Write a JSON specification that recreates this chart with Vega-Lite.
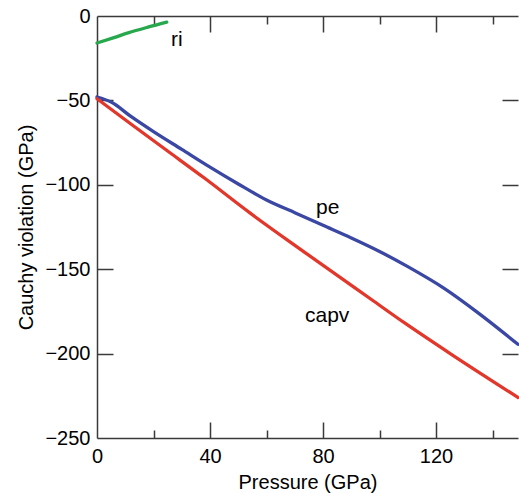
{
  "$schema": "https://vega.github.io/schema/vega-lite/v6.json",
  "width": 421,
  "height": 422,
  "autosize": {"type": "none"},
  "padding": {"left": 97, "top": 16, "right": 1, "bottom": 55},
  "background": "white",
  "config": {
    "view": {"stroke": null},
    "font": "Liberation Sans",
    "axis": {
      "grid": false,
      "labelFlush": false,
      "labelOverlap": false,
      "labelFont": "Liberation Sans",
      "labelFontSize": 20,
      "labelColor": "black",
      "titleFont": "Liberation Sans",
      "titleFontSize": 20,
      "titleFontWeight": "normal",
      "titleColor": "black",
      "domainColor": "#3a3a3a",
      "domainWidth": 1.5,
      "tickColor": "#3a3a3a",
      "tickWidth": 1.5
    }
  },
  "datasets": {
    "lines": [
      {"series": "ri", "p": 0, "v": -16},
      {"series": "ri", "p": 6, "v": -12.8},
      {"series": "ri", "p": 11, "v": -10},
      {"series": "ri", "p": 18, "v": -6.6},
      {"series": "ri", "p": 24.7, "v": -3.6},
      {"series": "pe", "p": 0, "v": -48},
      {"series": "pe", "p": 5, "v": -51},
      {"series": "pe", "p": 12, "v": -59.5},
      {"series": "pe", "p": 20, "v": -68.5},
      {"series": "pe", "p": 30, "v": -79},
      {"series": "pe", "p": 40, "v": -89.5},
      {"series": "pe", "p": 50, "v": -99.5},
      {"series": "pe", "p": 60, "v": -109},
      {"series": "pe", "p": 70, "v": -116.5},
      {"series": "pe", "p": 80, "v": -124},
      {"series": "pe", "p": 90, "v": -131.5},
      {"series": "pe", "p": 100, "v": -139.5},
      {"series": "pe", "p": 110, "v": -148.5},
      {"series": "pe", "p": 123, "v": -161.5},
      {"series": "pe", "p": 135, "v": -176},
      {"series": "pe", "p": 149, "v": -194.5},
      {"series": "capv", "p": 0, "v": -49},
      {"series": "capv", "p": 12, "v": -64},
      {"series": "capv", "p": 25, "v": -80},
      {"series": "capv", "p": 38, "v": -96},
      {"series": "capv", "p": 54, "v": -116.5},
      {"series": "capv", "p": 73.5, "v": -140},
      {"series": "capv", "p": 98, "v": -169},
      {"series": "capv", "p": 109, "v": -182},
      {"series": "capv", "p": 125, "v": -200},
      {"series": "capv", "p": 149, "v": -226}
    ],
    "labels": [
      {"label": "ri", "p": 26.2, "v": -18},
      {"label": "pe", "p": 77.5, "v": -117.2},
      {"label": "capv", "p": 73.6, "v": -181.3}
    ]
  },
  "resolve": {"axis": {"x": "independent", "y": "independent"}},
  "layer": [
    {
      "data": {"name": "lines"},
      "transform": [{"filter": "datum.series === 'ri'"}],
      "mark": {"type": "line", "color": "#27a84c", "strokeWidth": 3.3, "strokeCap": "round", "interpolate": "monotone"},
      "encoding": {
        "x": {"field": "p", "type": "quantitative", "scale": {"domain": [0, 149], "nice": false, "zero": false},
              "axis": {"orient": "bottom", "values": [0, 40, 80, 120], "ticks": false, "domain": true, "labelPadding": 8, "title": "Pressure (GPa)", "titlePadding": 6}},
        "y": {"field": "v", "type": "quantitative", "scale": {"domain": [-250, 0], "nice": false, "zero": false},
              "axis": {"orient": "left", "values": [-250, -200, -150, -100, -50, 0], "ticks": false, "domain": true, "labelPadding": 7, "title": "Cauchy violation (GPa)", "titlePadding": 8}}
      }
    },
    {
      "data": {"name": "lines"},
      "transform": [{"filter": "datum.series === 'pe'"}],
      "mark": {"type": "line", "color": "#3a47a3", "strokeWidth": 3.3, "strokeCap": "round", "interpolate": "monotone"},
      "encoding": {
        "x": {"field": "p", "type": "quantitative", "scale": {"domain": [0, 149], "nice": false, "zero": false},
              "axis": {"orient": "bottom", "values": [40, 80, 120], "tickSize": -16, "labels": false, "domain": false, "title": null}},
        "y": {"field": "v", "type": "quantitative", "scale": {"domain": [-250, 0], "nice": false, "zero": false},
              "axis": {"orient": "left", "values": [-200, -150, -100, -50], "tickSize": -16, "labels": false, "domain": false, "title": null}}
      }
    },
    {
      "data": {"name": "lines"},
      "transform": [{"filter": "datum.series === 'capv'"}],
      "mark": {"type": "line", "color": "#e2372b", "strokeWidth": 3.3, "strokeCap": "round", "interpolate": "monotone"},
      "encoding": {
        "x": {"field": "p", "type": "quantitative", "scale": {"domain": [0, 149], "nice": false, "zero": false},
              "axis": {"orient": "bottom", "values": [20, 60, 100, 140], "tickSize": -8, "labels": false, "domain": false, "title": null}},
        "y": {"field": "v", "type": "quantitative", "scale": {"domain": [-250, 0], "nice": false, "zero": false},
              "axis": {"orient": "right", "values": [-200, -150, -100, -50], "tickSize": -16, "labels": false, "domain": false, "title": null}}
      }
    },
    {
      "data": {"name": "labels"},
      "transform": [{"filter": "datum.label === 'ri'"}],
      "mark": {"type": "text", "align": "left", "baseline": "alphabetic", "fontSize": 21, "font": "Liberation Sans", "color": "black"},
      "encoding": {
        "x": {"field": "p", "type": "quantitative", "scale": {"domain": [0, 149], "nice": false, "zero": false},
              "axis": {"orient": "top", "values": [40, 80, 120], "tickSize": -16, "labels": false, "domain": true, "title": null}},
        "y": {"field": "v", "type": "quantitative", "scale": {"domain": [-250, 0], "nice": false, "zero": false}, "axis": null},
        "text": {"field": "label"}
      }
    },
    {
      "data": {"name": "labels"},
      "transform": [{"filter": "datum.label !== 'ri'"}],
      "mark": {"type": "text", "align": "left", "baseline": "alphabetic", "fontSize": 21, "font": "Liberation Sans", "color": "black"},
      "encoding": {
        "x": {"field": "p", "type": "quantitative", "scale": {"domain": [0, 149], "nice": false, "zero": false},
              "axis": {"orient": "top", "values": [20, 60, 100, 140], "tickSize": -8, "labels": false, "domain": false, "title": null}},
        "y": {"field": "v", "type": "quantitative", "scale": {"domain": [-250, 0], "nice": false, "zero": false}, "axis": null},
        "text": {"field": "label"}
      }
    }
  ]
}
